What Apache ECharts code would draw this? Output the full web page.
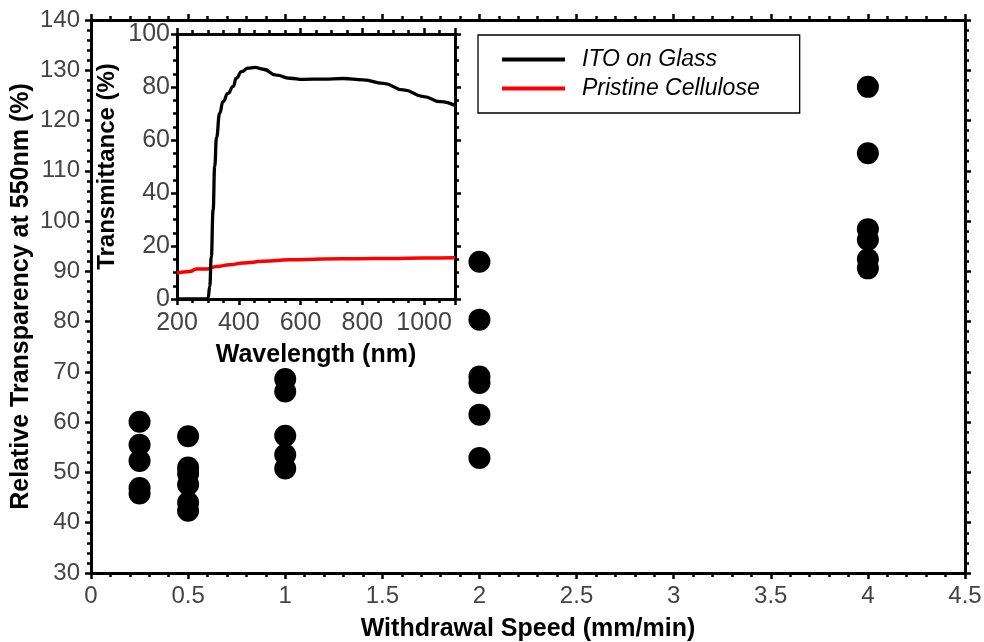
<!DOCTYPE html>
<html><head><meta charset="utf-8">
<script src="https://cdn.jsdelivr.net/npm/echarts@6/dist/echarts.min.js"></script>
<style>html,body{margin:0;padding:0;background:#fff}#c{width:984px;height:642px}</style>
</head><body><div id="c"></div>
<script>
// ---- Main chart data ----
const speeds = [0.25, 0.5, 1, 2, 4];
const transparency025 = [60.1, 55.5, 52.3, 46.9, 45.8];
const transparency05 = [57.2, 51.0, 49.8, 47.6, 44.0, 42.4];
const transparency1 = [68.6, 66.1, 57.3, 53.5, 50.8];
const transparency2 = [91.9, 80.4, 69.1, 67.8, 61.5, 52.9];
const transparency4 = [126.7, 113.5, 98.4, 96.3, 92.4, 90.6];
const mainXRange = [0, 4.5, 0.5];
const mainYRange = [30, 140, 10];

// ---- Inset data ----
const itoWavelength = [200, 250, 297, 301, 306, 311, 317, 322, 328, 338, 349, 365, 382, 392, 409, 430, 452, 479, 522, 565, 609, 673, 738, 803, 868, 933, 998, 1052, 1100];
const itoTransmittance = [0, 0, 0, 0.5, 4.8, 16, 33.7, 50, 61, 70, 74.5, 77.6, 80.2, 83.3, 85.8, 87.1, 87.4, 86.7, 84.5, 83.3, 82.9, 83, 83.2, 82.7, 81.4, 78.9, 76.4, 74.5, 73.0];
const celluloseWavelength = [200, 241, 263, 295, 328, 371, 414, 479, 565, 673, 782, 890, 998, 1100];
const celluloseTransmittance = [9.8, 10.4, 11.3, 11.3, 12.3, 12.9, 13.6, 14.2, 14.8, 15.1, 15.2, 15.3, 15.5, 15.6];
const insetXRange = [200, 1100, 200];
const insetXLabels = [200, 400, 600, 800, 1000];
const insetYRange = [0, 100, 20];

const FONT = '"Liberation Sans", Arial, sans-serif';
const groups = [transparency025, transparency05, transparency1, transparency2, transparency4];
const scatterData = [];
groups.forEach((g, i) => g.forEach(v => scatterData.push([speeds[i], v])));
const zip = (a, b) => a.map((x, i) => [x, b[i]]);

const lineBlack = { show: true, onZero: false, lineStyle: { color: '#000', width: 3 } };
function tick(len) { return { show: true, inside: false, length: len, lineStyle: { color: '#000', width: 2.5 } }; }
function minor(n, len) { return { show: true, splitNumber: n, length: len, lineStyle: { color: '#000', width: 2.5 } }; }
const labelStyle = { fontSize: 24, color: '#444', fontFamily: FONT };
const insetLabelStyle = { fontSize: 25, color: '#444', fontFamily: FONT };
const nameStyle = { fontSize: 25, fontWeight: 'bold', color: '#000', fontFamily: FONT };

const option = {
  animation: false,
  textStyle: { fontFamily: FONT },
  grid: [
    { left: 91, top: 20, width: 874, height: 553, containLabel: false, outerBoundsMode: 'none' },
    { left: 177, top: 34, width: 278, height: 265, containLabel: false, outerBoundsMode: 'none' }
  ],
  legend: {
    data: ['ITO on Glass', 'Pristine Cellulose'],
    orient: 'vertical', left: 478, top: 35,
    padding: [13, 40, 13, 24],
    itemWidth: 63, itemHeight: 4, itemGap: 6, icon: 'rect',
    borderColor: '#000', borderWidth: 1.3, backgroundColor: '#fff',
    textStyle: { fontSize: 23, fontStyle: 'italic', color: '#000', fontFamily: FONT, padding: [0, 0, 0, 12] }
  },
  xAxis: [
    { gridIndex: 0, type: 'value', position: 'bottom', min: mainXRange[0], max: mainXRange[1], interval: mainXRange[2],
      axisLine: lineBlack, axisTick: tick(6), minorTick: minor(5, 4), splitLine: { show: false },
      axisLabel: Object.assign({ margin: 11 }, labelStyle),
      name: 'Withdrawal Speed (mm/min)', nameLocation: 'middle', nameGap: 44, nameMoveOverlap: false, nameTextStyle: nameStyle },
    { gridIndex: 0, type: 'value', position: 'top', min: mainXRange[0], max: mainXRange[1], interval: mainXRange[2],
      axisLine: lineBlack, axisTick: tick(6), minorTick: minor(5, 4), splitLine: { show: false }, axisLabel: { show: false } },
    { gridIndex: 1, type: 'value', position: 'bottom', min: insetXRange[0], max: insetXRange[1], interval: insetXRange[2],
      axisLine: lineBlack, axisTick: tick(6), splitLine: { show: false },
      axisLabel: Object.assign({ margin: 12, formatter: v => insetXLabels.includes(v) ? String(v) : '' }, insetLabelStyle),
      name: 'Wavelength (nm)', nameLocation: 'middle', nameGap: 44, nameMoveOverlap: false, nameTextStyle: nameStyle },
    { gridIndex: 1, type: 'value', position: 'bottom', min: insetXRange[0], max: insetXRange[1], interval: 50,
      axisLine: lineBlack, axisTick: tick(4), splitLine: { show: false }, axisLabel: { show: false } },
    { gridIndex: 1, type: 'value', position: 'top', min: insetXRange[0], max: insetXRange[1], interval: insetXRange[2],
      axisLine: lineBlack, axisTick: tick(6), splitLine: { show: false }, axisLabel: { show: false } },
    { gridIndex: 1, type: 'value', position: 'top', min: insetXRange[0], max: insetXRange[1], interval: 50,
      axisLine: lineBlack, axisTick: tick(4), splitLine: { show: false }, axisLabel: { show: false } }
  ],
  yAxis: [
    { gridIndex: 0, type: 'value', position: 'left', min: mainYRange[0], max: mainYRange[1], interval: mainYRange[2],
      axisLine: lineBlack, axisTick: tick(6), minorTick: minor(5, 4), splitLine: { show: false },
      axisLabel: Object.assign({ margin: 11 }, labelStyle),
      name: 'Relative Transparency at 550nm (%)', nameLocation: 'middle', nameGap: 57, nameMoveOverlap: false, nameTextStyle: nameStyle },
    { gridIndex: 0, type: 'value', position: 'right', min: mainYRange[0], max: mainYRange[1], interval: mainYRange[2],
      axisLine: lineBlack, axisTick: tick(6), minorTick: minor(5, 4), splitLine: { show: false }, axisLabel: { show: false } },
    { gridIndex: 1, type: 'value', position: 'left', min: insetYRange[0], max: insetYRange[1], interval: insetYRange[2],
      axisLine: lineBlack, axisTick: tick(6), minorTick: minor(4, 4), splitLine: { show: false },
      axisLabel: Object.assign({ margin: 7 }, insetLabelStyle),
      name: 'Transmittance (%)', nameLocation: 'middle', nameGap: 58, nameMoveOverlap: false, nameTextStyle: Object.assign({}, nameStyle, { fontSize: 24 }) },
    { gridIndex: 1, type: 'value', position: 'right', min: insetYRange[0], max: insetYRange[1], interval: insetYRange[2],
      axisLine: lineBlack, axisTick: tick(6), minorTick: minor(4, 4), splitLine: { show: false }, axisLabel: { show: false } }
  ],
  series: [
    { type: 'scatter', xAxisIndex: 0, yAxisIndex: 0, symbolSize: 22, itemStyle: { color: '#000', opacity: 1 }, data: scatterData },
    { name: 'ITO on Glass', type: 'line', xAxisIndex: 2, yAxisIndex: 2, symbol: 'none', smooth: 0.5, smoothMonotone: 'x',
      itemStyle: { color: '#000' }, lineStyle: { color: '#000', width: 3.3 }, data: zip(itoWavelength, itoTransmittance), z: 3 },
    { name: 'Pristine Cellulose', type: 'line', xAxisIndex: 2, yAxisIndex: 2, symbol: 'none', smooth: 0.5, smoothMonotone: 'x',
      itemStyle: { color: '#ff0000' }, lineStyle: { color: '#ff0000', width: 3.5 }, data: zip(celluloseWavelength, celluloseTransmittance), z: 2 }
  ]
};
const chart = echarts.init(document.getElementById('c'), null, { renderer: 'canvas' });
chart.setOption(option);
</script>
</body></html>
